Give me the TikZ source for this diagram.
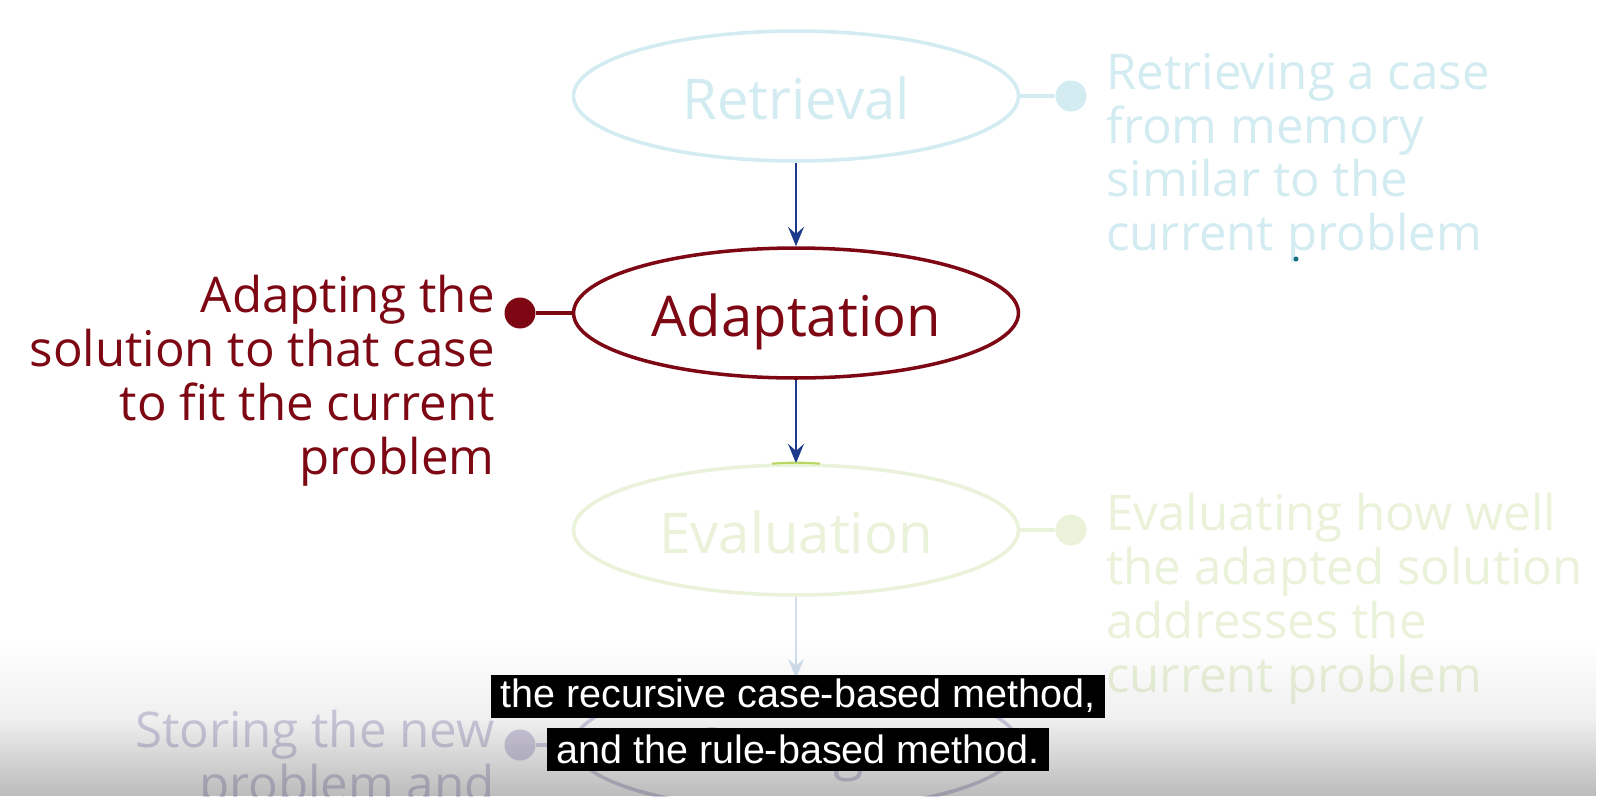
\documentclass[tikz,border=0pt]{standalone}
\usepackage{fontspec}
\setmainfont{Open Sans}
\newfontfamily\capfont{Liberation Sans}
\usetikzlibrary{arrows.meta,shapes.geometric,fadings}

\definecolor{adaptred}{RGB}{125,8,20}
\definecolor{navyflow}{RGB}{28,58,140}
\definecolor{retfade}{RGB}{210,236,241}
\definecolor{evalfade}{RGB}{234,242,218}
\definecolor{storefade}{RGB}{212,208,228}
\definecolor{flowfade}{RGB}{208,222,236}
\definecolor{hilite}{RGB}{160,200,40}
\definecolor{tealdot}{RGB}{20,110,130}

\tikzset{
  stage/.style={ellipse, draw, line width=2pt, minimum width=8.9cm, minimum height=2.6cm,
    text height=30pt, text depth=3pt, font=\fontsize{32}{36}\selectfont},
  note/.style={inner sep=0pt, font=\fontsize{28}{30.6}\selectfont},
  flow/.style={-{Stealth[length=11pt,width=9pt,inset=4pt]}, line width=1.4pt},
  dot/.style={circle, fill, inner sep=0pt, minimum size=0.62cm},
  stem/.style={line width=2.3pt},
  caption/.style={fill=black, text=white, inner xsep=5pt, inner ysep=0pt, minimum height=0.86cm,
    font=\capfont\fontsize{22.5}{26}\selectfont}
}

\begin{document}
\begin{tikzpicture}[x=0.02cm,y=-0.02cm]
    \useasboundingbox[fill=white] (0,0) rectangle (1600,796);
    % Stages
    \node[stage, retfade, text=retfade] (ret) at (796,96) {Retrieval};
    \node[stage, adaptred, text=adaptred] (adapt) at (796,313) {Adaptation};
    \node[stage, evalfade, text=evalfade] (eval) at (796,530) {Evaluation};
    \node[stage, storefade, text=storefade] (store) at (796,745) {Storage};
    % Flow
    \draw[flow, navyflow] (ret) -- (adapt);
    \draw[flow, navyflow] (adapt) -- (eval);
    \draw[flow, flowfade] (eval) -- (store);
    \draw[hilite, line width=1.2pt, opacity=0.7] (eval.110) to[bend left=4] (eval.70);
    % Side notes
    \node[dot, retfade] (retdot) at (1071,96) {};
    \draw[stem, retfade] (ret.east) -- (retdot);
    \node[note, retfade, anchor=north west, align=left] (retnote) at (1106,53)
      {Retrieving a case\\from memory\\similar to the\\current problem};
    \fill[tealdot] (1296,259) circle (2.5);
    \node[dot, adaptred] (adaptdot) at (520,313) {};
    \draw[stem, adaptred] (adapt.west) -- (adaptdot);
    \node[note, adaptred, anchor=north east, align=right] (adaptnote) at (495,275)
      {Adapting the\\solution to that case\\to fit the current\\problem};
    \node[dot, evalfade] (evaldot) at (1071,530) {};
    \draw[stem, evalfade] (eval.east) -- (evaldot);
    \node[note, evalfade, anchor=north west, align=left] (evalnote) at (1106,493)
      {Evaluating how well\\the adapted solution\\addresses the\\current problem};
    \node[dot, storefade] (storedot) at (520,745) {};
    \draw[stem, storefade] (store.west) -- (storedot);
    \node[note, storefade, anchor=north east, align=right] (storenote) at (495,710)
      {Storing the new\\problem and};
    % Player shade and captions
    \fill[black, opacity=0.12, path fading=north] (0,640) rectangle (1600,796);
    \fill[black, opacity=0.16, path fading=north] (0,720) rectangle (1600,796);
    \node[caption] (cap1) at (798,696) {the recursive case-based method,};
    \node[caption] (cap2) at (798,749) {and the rule-based method.};
\end{tikzpicture}
\end{document}
